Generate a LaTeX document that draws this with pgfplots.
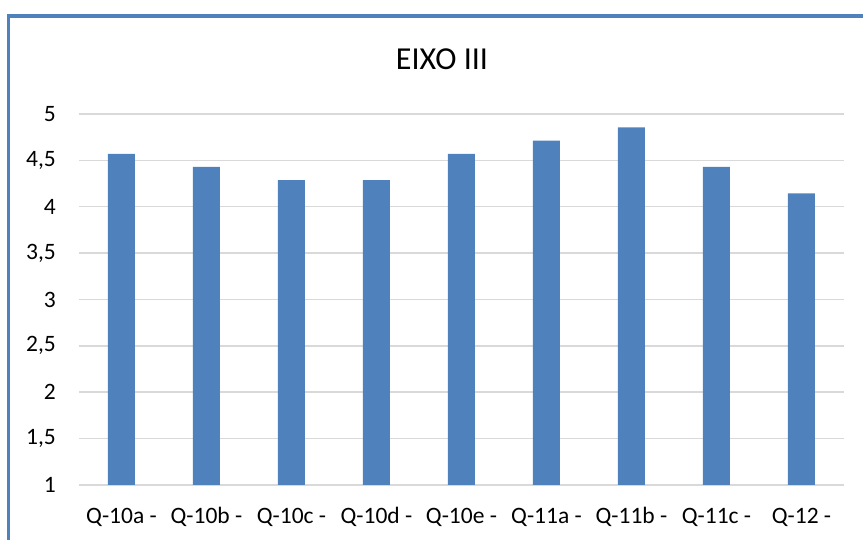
\documentclass[border=0pt]{standalone}
\usepackage{pgfplots}
\pgfplotsset{compat=1.18}
\usepackage{fontspec}
\setmainfont{Carlito}
\definecolor{barblue}{HTML}{4F81BD}
\definecolor{gridgray}{HTML}{D9D9D9}
\begin{document}
\begin{tikzpicture}[x=1pt,y=1pt]
\path[use as bounding box] (0,0) rectangle (863,540);
\begin{axis}[
  at={(79pt,55pt)}, anchor=south west,
  scale only axis, width=765pt, height=371pt,
  ymin=1, ymax=5, ytick={1,1.5,...,5},
  xmin=-0.5, xmax=8.5,
  xtick={0,...,8},
  xticklabels={Q-10a -, Q-10b -, Q-10c -, Q-10d -, Q-10e -, Q-11a -, Q-11b -, Q-11c -, Q-12 -},
  axis line style={draw=none},
  major tick length=0pt,
  ymajorgrids, grid style={gridgray, line width=1.5pt},
  /pgf/number format/assume math mode=true,
  /pgf/number format/use comma,
  /pgf/number format/fixed,
  yticklabel style={anchor=east, inner sep=0pt, xshift=-23pt, font=\fontsize{23.5}{28}\selectfont},
  xticklabel style={anchor=center, inner sep=0pt, yshift=-32pt, font=\fontsize{23.5}{28}\selectfont},
  ybar, bar width=27pt, bar shift=0pt,
  clip=false,
]
\addplot[fill=barblue, draw=none] coordinates {
  (0,4.571) (1,4.429) (2,4.286) (3,4.286) (4,4.571) (5,4.714) (6,4.857) (7,4.429) (8,4.143)
};
\end{axis}
\node[font=\fontsize{32}{38}\selectfont, anchor=base] at (442,470) {EIXO III};
\draw[barblue, line width=3.5pt] (8.5,0) -- (8.5,524) -- (863,524);
\end{tikzpicture}
\end{document}
